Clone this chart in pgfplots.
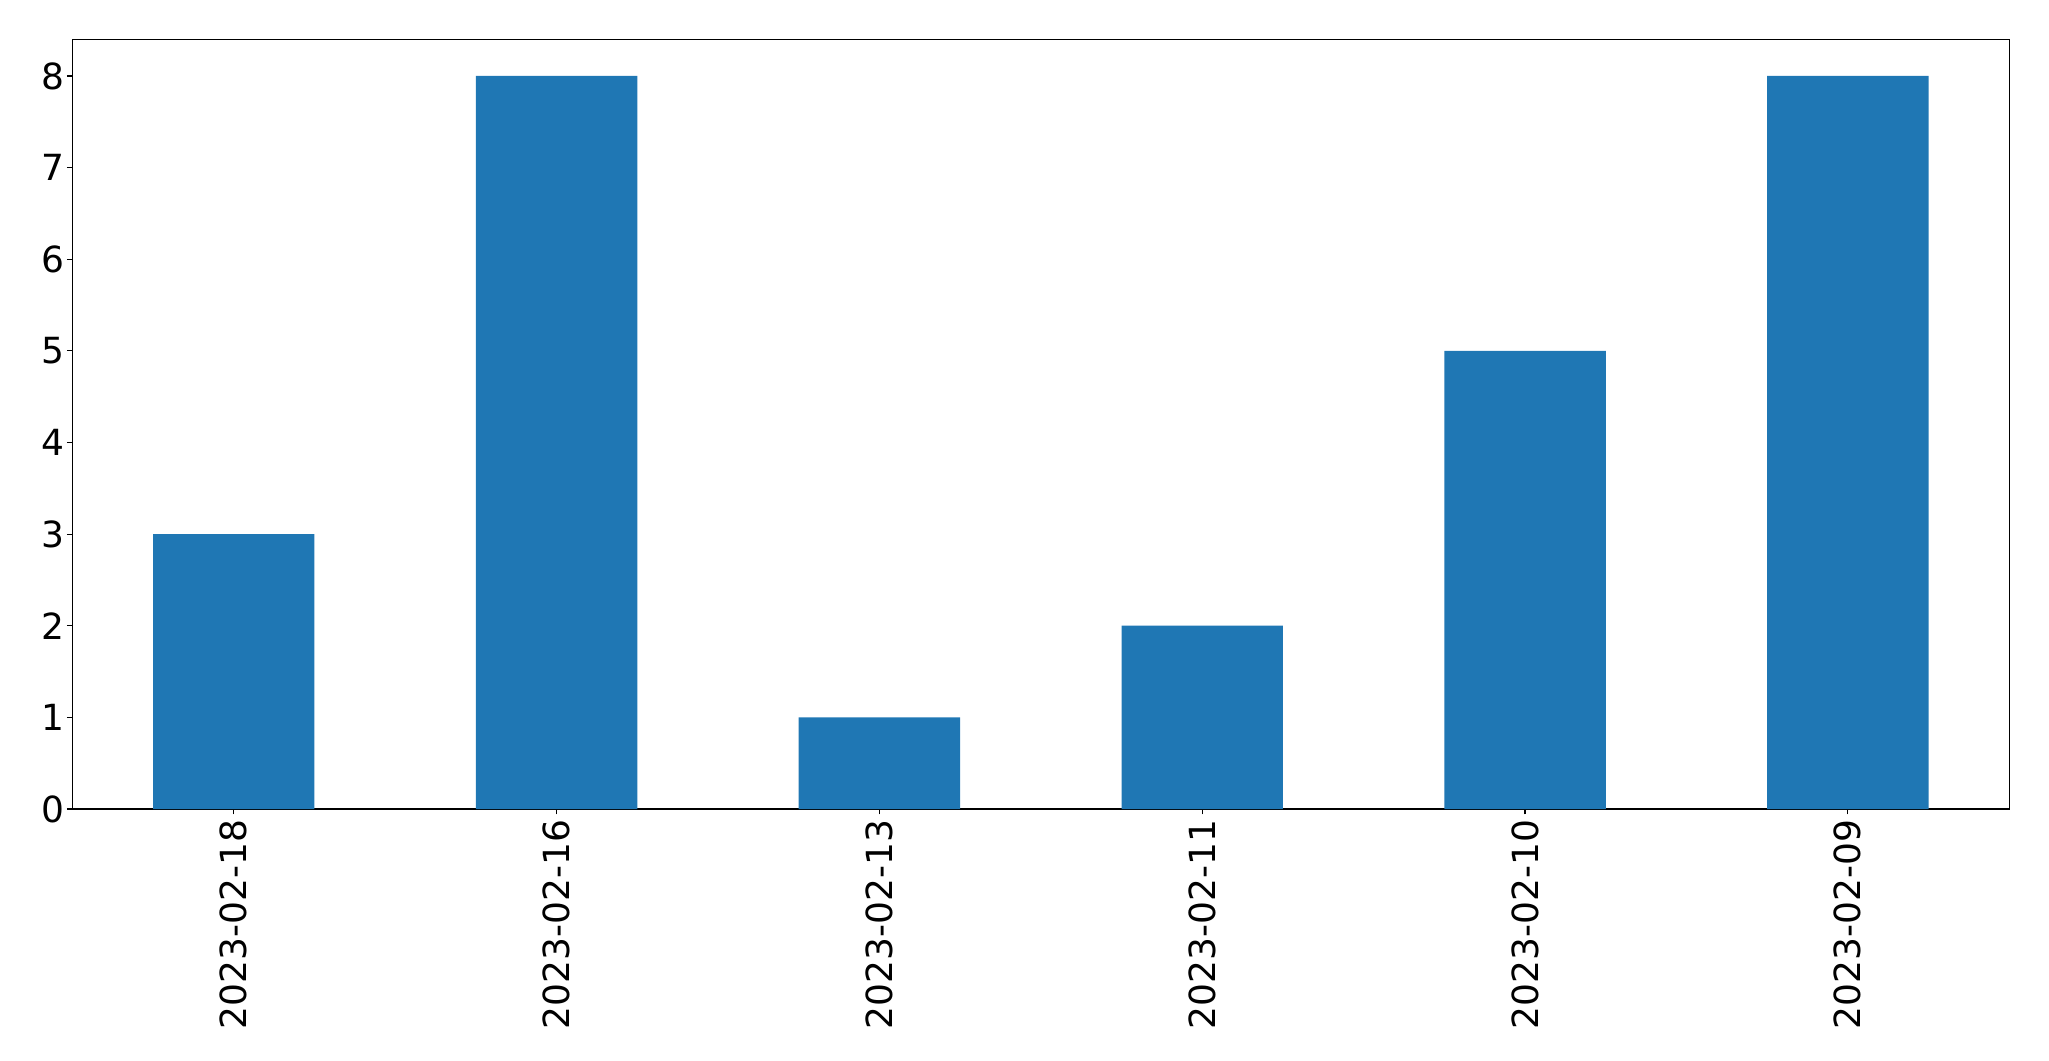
\documentclass[border=0pt]{standalone}
\usepackage{fontspec}
\setmainfont{DejaVu Sans}
\usepackage{pgfplots}
\pgfplotsset{compat=1.18}
\definecolor{mplblue}{HTML}{1F77B4}
\begin{document}
\begin{tikzpicture}
\useasboundingbox (-36.15bp,-126bp) rectangle (988.35bp,404.5bp);
\begin{axis}[
  at={(0,0)}, anchor=south west,
  scale only axis,
  width=968.5bp, height=384.85bp,
  xmin=-0.5, xmax=5.5, ymin=0, ymax=8.4,
  xtick={0,1,2,3,4,5},
  xticklabels={2023-02-18,2023-02-16,2023-02-13,2023-02-11,2023-02-10,2023-02-09},
  ytick={0,1,2,3,4,5,6,7,8},
  /pgf/number format/assume math mode=true,
  tick align=outside,
  major tick length=2.65bp,
  xtick pos=bottom, ytick pos=left,
  axis line style={line width=0.6bp, black},
  every tick/.style={black, line width=0.6bp},
  tick label style={font=\fontsize{18bp}{21bp}\selectfont, text=black},
  xticklabel style={rotate=90, anchor=east, inner xsep=2.6bp, inner ysep=0pt},
  yticklabel style={anchor=east, inner xsep=1.2bp, inner ysep=0pt},
  ybar, bar width=0.5,
]
\addplot[fill=mplblue, draw=none] coordinates {(0,3) (1,8) (2,1) (3,2) (4,5) (5,8)};
\end{axis}
\end{tikzpicture}
\end{document}
